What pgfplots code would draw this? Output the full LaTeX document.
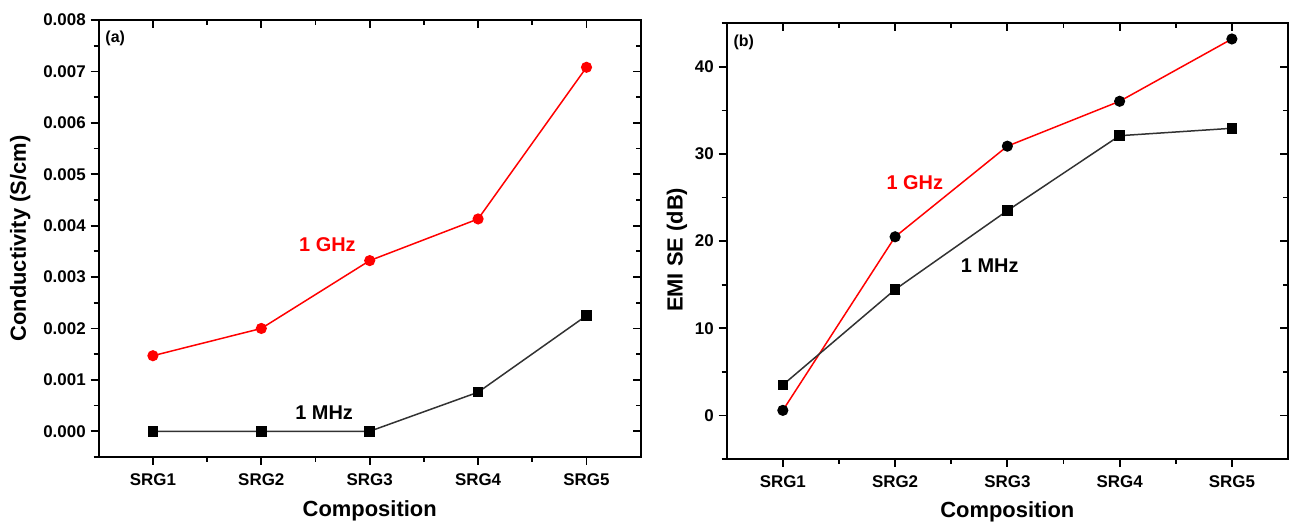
\documentclass[border=0pt]{standalone}
\usepackage{fontspec}
\setmainfont{Liberation Sans}
\usepackage{pgfplots}
\pgfplotsset{compat=1.18}
\definecolor{myred}{RGB}{255,0,0}
\definecolor{mygray}{RGB}{50,50,50}
\pgfplotsset{
  common/.style={
    scale only axis,
    xmin=0.5, xmax=5.5,
    xtick={1,2,3,4,5},
    minor xtick={1.5,2.5,3.5,4.5},
    axis line style={line width=2.2bp, black},
    every tick/.style={line width=1.8bp, black},
    major tick length=8bp,
    minor tick length=5bp,
    /pgf/number format/assume math mode=true,
    tick label style={font=\fontsize{17}{20}\selectfont\bfseries},
    xticklabel style={yshift=-5bp},
    yticklabel style={xshift=-1.5bp},
    label style={font=\fontsize{22}{26}\selectfont\bfseries},
    clip=false,
  },
  mainax/.style={common, tick align=outside, xtick pos=left, ytick pos=left,
    xticklabels={SRG1,SRG2,SRG3,SRG4,SRG5}},
  overax/.style={common, tick align=inside, xtick pos=right, ytick pos=right,
    xticklabels={}, yticklabels={}},
}
\begin{document}
\begin{tikzpicture}[x=1bp,y=1bp]
\path[use as bounding box] (0,0) rectangle (1291,527);

% ---------- panel (a) ----------
\begin{axis}[mainax,
  at={(98.7bp,70bp)}, anchor=south west, width=542bp, height=437bp,
  ymin=-0.0005, ymax=0.008,
  ytick={0,0.001,0.002,0.003,0.004,0.005,0.006,0.007,0.008},
  minor ytick={-0.0005,0.0005,0.0015,0.0025,0.0035,0.0045,0.0055,0.0065,0.0075},
  scaled y ticks=false,
  yticklabel style={/pgf/number format/.cd, fixed, fixed zerofill, precision=3},
  xlabel={Composition},
  ylabel={Conductivity (S/cm)},
  xlabel style={at={(axis description cs:0.5,-0.123)}, anchor=center},
  ylabel style={at={(axis description cs:-0.145,0.5)}, anchor=center},
]
\addplot[color=myred, line width=1.5bp, mark=*, mark size=4.8bp, mark options={fill=myred, draw=myred, solid}]
  coordinates {(1,0.00147) (2,0.00200) (3,0.00332) (4,0.00413) (5,0.00708)};
\addplot[color=mygray, line width=1.5bp, mark=square*, mark size=4.5bp, mark options={fill=black, draw=black, solid}]
  coordinates {(1,0) (2,0) (3,0) (4,0.00076) (5,0.00225)};
\node[font=\fontsize{20}{24}\selectfont\bfseries, text=myred] at (axis cs:2.61,0.00363) {1 GHz};
\node[font=\fontsize{20}{24}\selectfont\bfseries, text=black] at (axis cs:2.58,0.00036) {1 MHz};
\node[font=\fontsize{16}{19}\selectfont\bfseries, anchor=west] at (axis description cs:0.006,0.957) {(a)};
\end{axis}
\begin{axis}[overax,
  at={(98.7bp,70bp)}, anchor=south west, width=542bp, height=437bp,
  ymin=-0.0005, ymax=0.008,
  ytick={0,0.001,0.002,0.003,0.004,0.005,0.006,0.007,0.008},
  minor ytick={-0.0005,0.0005,0.0015,0.0025,0.0035,0.0045,0.0055,0.0065,0.0075},
  scaled y ticks=false,
]
\end{axis}

% ---------- panel (b) ----------
\begin{axis}[mainax,
  at={(726.7bp,68bp)}, anchor=south west, width=561.3bp, height=435.7bp,
  ymin=-5, ymax=45,
  ytick={0,10,20,30,40},
  minor ytick={-5,5,15,25,35,45},
  xlabel={Composition},
  ylabel={EMI SE (dB)},
  xlabel style={at={(axis description cs:0.5,-0.122)}, anchor=center},
  ylabel style={at={(axis description cs:-0.0885,0.48)}, anchor=center},
]
\addplot[color=myred, line width=1.5bp, mark=*, mark size=4.8bp, mark options={fill=black, draw=black, solid}]
  coordinates {(1,0.58) (2,20.5) (3,30.9) (4,36.05) (5,43.2)};
\addplot[color=mygray, line width=1.5bp, mark=square*, mark size=4.5bp, mark options={fill=black, draw=black, solid}]
  coordinates {(1,3.5) (2,14.45) (3,23.5) (4,32.1) (5,32.95)};
\node[font=\fontsize{20}{24}\selectfont\bfseries, text=myred] at (axis cs:2.176,26.73) {1 GHz};
\node[font=\fontsize{20}{24}\selectfont\bfseries, text=black] at (axis cs:2.843,17.18) {1 MHz};
\node[font=\fontsize{16}{19}\selectfont\bfseries, anchor=west] at (axis description cs:0.006,0.957) {(b)};
\end{axis}
\begin{axis}[overax,
  at={(726.7bp,68bp)}, anchor=south west, width=561.3bp, height=435.7bp,
  ymin=-5, ymax=45,
  ytick={0,10,20,30,40},
  minor ytick={-5,5,15,25,35,45},
]
\end{axis}
\end{tikzpicture}
\end{document}
